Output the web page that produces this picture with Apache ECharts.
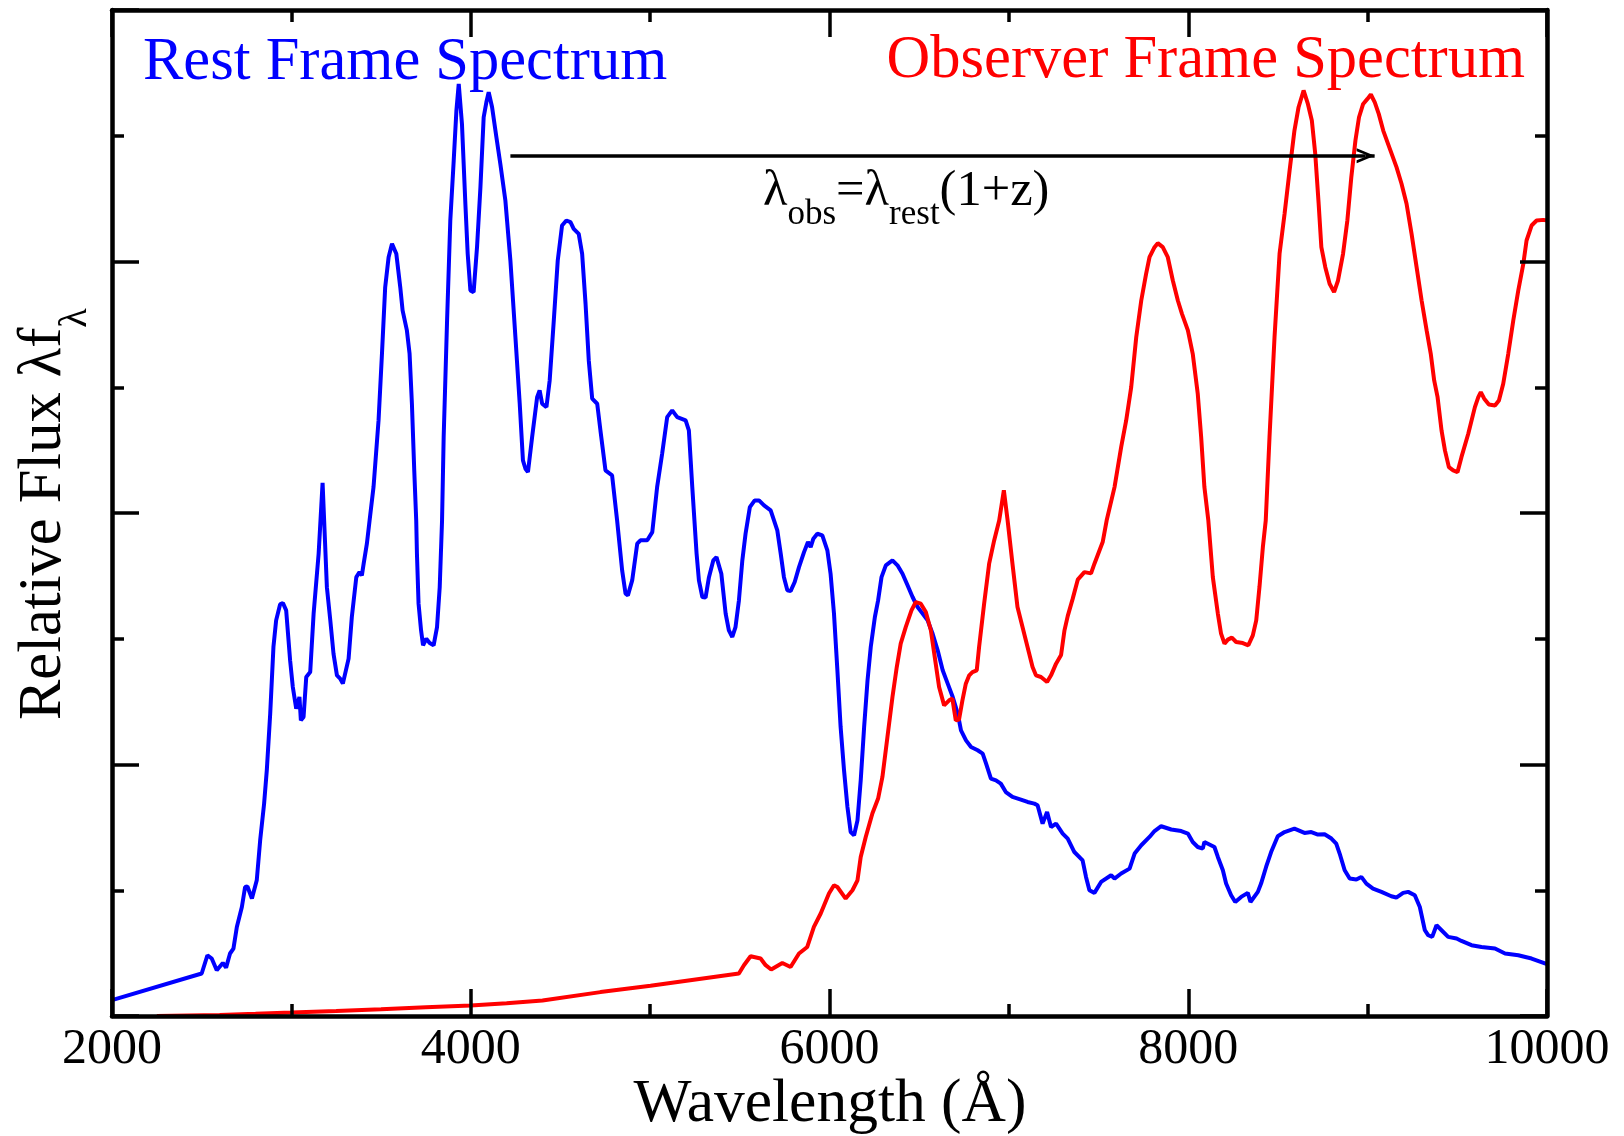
<!DOCTYPE html>
<html>
<head>
<meta charset="utf-8">
<script src="https://cdn.jsdelivr.net/npm/echarts@6/dist/echarts.min.js"></script>
<style>
html, body { margin: 0; padding: 0; background: #fff; }
#chart { width: 1624px; height: 1136px; }
</style>
</head>
<body>
<div id="chart"></div>
<script>
// rest frame spectrum, [wavelength (A), relative flux]
var restSpectrum = [
  [2000,0.126],[2500,0.338],[2532,0.483],[2556,0.457],[2584,0.364],[2618,0.422],[2636,0.385],[2658,0.497],[2677,0.536],[2696,0.708],
  [2724,0.867],[2742,1.026],[2755,1.03],[2780,0.934],[2807,1.079],[2826,1.397],[2848,1.689],[2863,1.954],[2882,2.405],[2900,2.934],
  [2915,3.146],[2937,3.273],[2953,3.284],[2971,3.226],[2993,2.828],[3008,2.616],[3027,2.444],[3045,2.537],[3053,2.351],[3068,2.378],
  [3083,2.696],[3105,2.735],[3124,3.2],[3152,3.677],[3174,4.24],[3198,3.41],[3217,3.146],[3235,2.88],[3254,2.709],[3272,2.683],
  [3287,2.643],[3319,2.842],[3337,3.173],[3362,3.49],[3380,3.53],[3393,3.504],[3403,3.597],[3421,3.756],[3436,3.94],[3458,4.206],
  [3486,4.736],[3505,5.266],[3523,5.796],[3542,6.034],[3561,6.141],[3585,6.061],[3607,5.796],[3620,5.611],[3644,5.452],[3659,5.266],
  [3672,4.869],[3685,4.339],[3696,3.94],[3700,3.677],[3709,3.279],[3723,3.067],[3734,2.948],[3752,3.0],[3771,2.966],[3793,2.948],
  [3812,3.093],[3827,3.411],[3840,3.94],[3849,4.603],[3868,5.531],[3886,6.326],[3905,6.803],[3920,7.2],[3933,7.413],[3951,7.095],
  [3970,6.459],[3983,6.061],[3998,5.77],[4016,5.756],[4035,6.114],[4054,6.591],[4072,7.147],[4087,7.266],[4100,7.346],[4119,7.227],
  [4143,6.988],[4165,6.776],[4193,6.485],[4221,6.008],[4249,5.398],[4273,4.869],[4291,4.418],[4305,4.352],[4319,4.325],[4342,4.603],
  [4370,4.921],[4384,4.975],[4398,4.869],[4422,4.842],[4440,5.054],[4463,5.531],[4485,6.008],[4509,6.286],[4533,6.326],[4556,6.313],
  [4574,6.26],[4602,6.22],[4621,6.061],[4640,5.664],[4658,5.213],[4677,4.909],[4705,4.869],[4723,4.657],[4751,4.339],[4788,4.299],
  [4816,3.94],[4844,3.544],[4863,3.358],[4876,3.345],[4900,3.464],[4928,3.756],[4946,3.783],[4984,3.783],[5012,3.848],[5039,4.206],
  [5067,4.471],[5095,4.762],[5123,4.816],[5151,4.762],[5198,4.736],[5216,4.657],[5235,4.206],[5259,3.677],[5272,3.464],[5291,3.332],
  [5309,3.327],[5328,3.49],[5352,3.623],[5370,3.649],[5397,3.517],[5421,3.2],[5439,3.067],[5458,3.014],[5476,3.093],[5495,3.305],
  [5514,3.623],[5532,3.835],[5556,4.047],[5583,4.1],[5607,4.1],[5635,4.06],[5672,4.021],[5691,3.94],[5709,3.862],[5728,3.677],
  [5746,3.49],[5765,3.385],[5783,3.379],[5806,3.451],[5830,3.57],[5858,3.689],[5880,3.769],[5895,3.729],[5910,3.796],[5932,3.835],
  [5960,3.822],[5988,3.703],[6006,3.517],[6025,3.2],[6044,2.749],[6062,2.298],[6081,1.954],[6100,1.662],[6118,1.463],[6137,1.437],
  [6156,1.556],[6174,1.874],[6193,2.298],[6212,2.669],[6230,2.934],[6253,3.173],[6271,3.305],[6290,3.49],[6314,3.584],[6351,3.623],
  [6379,3.584],[6407,3.517],[6435,3.425],[6463,3.332],[6491,3.252],[6519,3.2],[6547,3.146],[6575,3.04],[6603,2.908],[6631,2.749],
  [6659,2.643],[6687,2.537],[6715,2.405],[6733,2.272],[6761,2.192],[6789,2.139],[6826,2.113],[6854,2.087],[6873,2.007],[6900,1.888],
  [6928,1.874],[6955,1.848],[6983,1.781],[7020,1.742],[7067,1.721],[7104,1.702],[7142,1.689],[7160,1.676],[7188,1.53],[7213,1.622],
  [7235,1.503],[7263,1.53],[7300,1.451],[7328,1.41],[7365,1.304],[7411,1.238],[7430,1.106],[7449,1.0],[7477,0.979],[7514,1.066],
  [7570,1.119],[7589,1.093],[7626,1.133],[7673,1.172],[7701,1.292],[7738,1.358],[7784,1.424],[7812,1.471],[7849,1.509],[7905,1.483],
  [7961,1.471],[7998,1.451],[8025,1.384],[8053,1.344],[8081,1.331],[8090,1.384],[8146,1.344],[8165,1.265],[8193,1.159],[8211,1.053],
  [8239,0.96],[8262,0.907],[8295,0.947],[8332,0.979],[8347,0.907],[8388,0.987],[8406,1.053],[8434,1.185],[8462,1.304],[8499,1.429],
  [8537,1.463],[8592,1.49],[8648,1.456],[8686,1.463],[8723,1.443],[8760,1.445],[8798,1.411],[8825,1.371],[8844,1.292],[8872,1.159],
  [8900,1.093],[8937,1.085],[8965,1.106],[8993,1.053],[9030,1.013],[9077,0.987],[9132,0.952],[9160,0.942],[9198,0.979],[9226,0.987],
  [9263,0.96],[9291,0.867],[9319,0.682],[9338,0.642],[9360,0.629],[9384,0.722],[9412,0.682],[9449,0.629],[9496,0.616],[9523,0.597],
  [9579,0.563],[9635,0.549],[9710,0.537],[9766,0.497],[9840,0.483],[9914,0.457],[10000,0.412]
];

// observer frame spectrum
var obsSpectrum = [
  [2250,0.0],[2600,0.008],[2800,0.017],[3000,0.027],[3250,0.04],[3500,0.054],[3750,0.069],[4000,0.084],[4200,0.102],[4400,0.124],
  [4723,0.19],[5002,0.24],[5495,0.338],[5523,0.404],
  [5560,0.475],[5616,0.457],[5644,0.404],[5675,0.37],[5737,0.422],[5783,0.39],[5830,0.497],[5876,0.549],[5913,0.708],[5951,0.815],
  [5997,0.974],[6025,1.04],[6044,1.026],[6090,0.934],[6128,1.0],[6156,1.079],[6174,1.265],[6202,1.424],[6239,1.61],[6271,1.729],
  [6295,1.901],[6323,2.219],[6351,2.537],[6375,2.775],[6397,2.961],[6425,3.093],[6457,3.226],[6481,3.292],[6509,3.279],[6537,3.212],
  [6565,3.067],[6584,2.882],[6611,2.616],[6639,2.47],[6667,2.51],[6685,2.524],[6704,2.351],[6722,2.357],[6741,2.51],[6760,2.643],
  [6779,2.709],[6797,2.735],[6821,2.749],[6834,2.934],[6862,3.279],[6890,3.597],[6918,3.782],[6946,3.94],[6972,4.18],[6993,3.94],
  [7020,3.597],[7048,3.252],[7076,3.093],[7104,2.934],[7132,2.775],[7151,2.709],[7179,2.696],[7213,2.656],[7235,2.709],[7263,2.802],
  [7291,2.87],[7310,3.067],[7328,3.18],[7356,3.319],[7384,3.47],[7421,3.53],[7458,3.52],[7477,3.597],[7523,3.769],[7545,3.94],
  [7589,4.206],[7626,4.524],[7654,4.736],[7682,5.001],[7710,5.398],[7738,5.69],[7765,5.902],[7784,6.034],[7812,6.114],[7830,6.146],
  [7858,6.114],[7886,6.034],[7914,5.849],[7942,5.69],[7965,5.584],[7998,5.452],[8025,5.266],[8053,4.948],[8072,4.603],[8090,4.206],
  [8112,3.94],[8137,3.49],[8165,3.2],[8183,3.04],[8202,2.961],[8221,2.993],[8243,3.009],[8267,2.974],[8304,2.966],[8335,2.948],
  [8360,3.027],[8379,3.146],[8397,3.411],[8416,3.729],[8432,3.94],[8453,4.603],[8481,5.398],[8509,6.061],[8537,6.379],[8565,6.723],
  [8592,7.041],[8615,7.227],[8643,7.36],[8667,7.253],[8689,7.121],[8708,6.856],[8727,6.459],[8742,6.114],[8764,5.955],[8788,5.823],
  [8813,5.756],[8835,5.849],[8863,6.061],[8887,6.326],[8909,6.67],[8932,6.962],[8952,7.147],[8975,7.253],[8999,7.293],[9018,7.328],
  [9040,7.266],[9062,7.174],[9087,7.041],[9124,6.896],[9161,6.75],[9189,6.618],[9217,6.459],[9245,6.22],[9273,5.955],[9301,5.69],
  [9329,5.452],[9352,5.266],[9371,5.054],[9390,4.921],[9412,4.657],[9431,4.498],[9453,4.365],[9477,4.339],[9501,4.325],[9523,4.444],
  [9561,4.63],[9598,4.842],[9617,4.921],[9631,4.961],[9650,4.909],[9676,4.863],[9710,4.855],[9732,4.895],[9756,5.028],[9784,5.266],
  [9812,5.531],[9840,5.77],[9868,5.982],[9886,6.167],[9914,6.286],[9942,6.326],[9979,6.331],[10000,6.326]
];

var xMin = 2000, xMax = 10000, xStep = 2000;
var yMin = 0, yMax = 8, yStep = 2;

// redshift arrow, data coords
var arrowFrom = [4221, 6.84];
var arrowTip = [9039, 6.84];
var headBack = 50; // arrow head length in A

// equation pieces: text, subscript?
var eqParts = [['λ', false], ['obs', true], ['=λ', false], ['rest', true], ['(1+z)', false]];

var FONT = '"Liberation Serif", "Times New Roman", serif';
var headPath = 'path://M7.5,0 L15,18 L12,18 L7.5,6.5 L3,18 L0,18 Z';

var measureCtx = document.createElement('canvas').getContext('2d');
function textWidth(str, size) {
  measureCtx.font = size + 'px ' + FONT;
  return measureCtx.measureText(str).width;
}

function frameAxis(pos, isX, showLabel) {
  var ax = {
    type: 'value',
    position: pos,
    z: 5,
    min: isX ? xMin : yMin,
    max: isX ? xMax : yMax,
    interval: isX ? xStep : yStep,
    axisLine: { show: true, onZero: false, lineStyle: { color: '#000', width: 4.5 } },
    axisTick: { show: true, inside: true, length: 27, lineStyle: { color: '#000', width: 3.5 } },
    minorTick: { show: true, splitNumber: 2, length: 12, lineStyle: { color: '#000', width: 3.5 } },
    splitLine: { show: false },
    minorSplitLine: { show: false },
    axisLabel: { show: false }
  };
  if (showLabel) {
    ax.axisLabel = {
      show: true, margin: 9, color: '#000',
      fontFamily: FONT, fontSize: 50, lineHeight: 50,
      formatter: function (v) { return String(v); }
    };
  }
  return ax;
}

function txt(str, x, y, size, color, align, rot) {
  var el = {
    type: 'text', x: x, y: y,
    style: { text: str, fill: color, font: size + 'px ' + FONT, align: align, verticalAlign: 'middle' }
  };
  if (rot) el.rotation = rot;
  return el;
}

var graphics = [
  txt('Rest Frame Spectrum', 143, 63, 60.5, '#0000ff', 'left'),
  txt('Observer Frame Spectrum', 1525, 61, 60.5, '#ff0000', 'right'),
  txt('Wavelength (Å)', 830, 1105, 61.5, '#000', 'center')
];

// equation with subscripts
var ex = 763;
eqParts.forEach(function (p) {
  var size = p[1] ? 35 : 50.5;
  graphics.push(txt(p[0], ex, p[1] ? 214.6 : 191.7, size, '#000', 'left'));
  ex += textWidth(p[0], size);
});

// y axis title, rotated, reading upward
var yTitle = 'Relative Flux λf';
var yTitleW = textWidth(yTitle, 60.5);
graphics.push(txt(yTitle, 44.5, 720, 60.5, '#000', 'left', Math.PI / 2));
graphics.push(txt('λ', 75, 720 - yTitleW, 40, '#000', 'left', Math.PI / 2));

var chart = echarts.init(document.getElementById('chart'), null, { renderer: 'canvas' });
var headCenter = [arrowTip[0] - headBack, arrowTip[1]];

chart.setOption({
  animation: false,
  backgroundColor: '#fff',
  grid: { left: 112, right: 77, top: 10, bottom: 120, containLabel: false, outerBoundsMode: 'none' },
  xAxis: [frameAxis('bottom', true, true), frameAxis('top', true, false)],
  yAxis: [frameAxis('left', false, false), frameAxis('right', false, false)],
  series: [
    {
      name: 'Rest Frame Spectrum',
      type: 'line',
      data: restSpectrum,
      showSymbol: false,
      symbol: 'none',
      lineStyle: { color: '#0000ff', width: 4 },
      itemStyle: { color: '#0000ff' },
      markLine: {
        silent: true,
        animation: false,
        label: { show: false },
        lineStyle: { color: '#000', width: 3.5, type: 'solid' },
        symbolSize: [15, 18],
        data: [
          [{ coord: arrowFrom, symbol: 'none' }, { coord: headCenter, symbol: headPath }],
          [{ coord: headCenter, symbol: 'none' }, { coord: arrowTip, symbol: 'none' }]
        ]
      }
    },
    {
      name: 'Observer Frame Spectrum',
      type: 'line',
      data: obsSpectrum,
      showSymbol: false,
      symbol: 'none',
      lineStyle: { color: '#ff0000', width: 4 },
      itemStyle: { color: '#ff0000' }
    }
  ],
  graphic: graphics
});
</script>
</body>
</html>
